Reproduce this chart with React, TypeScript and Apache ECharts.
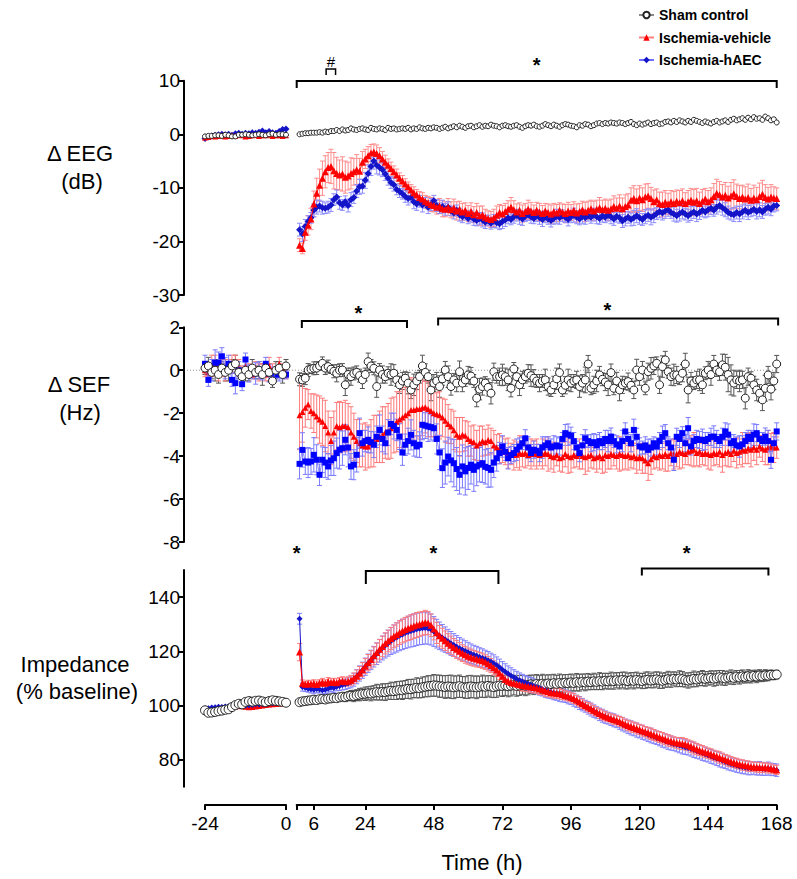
import React, { useEffect, useRef } from 'react';
import * as echarts from 'echarts';

const FONT = '"Liberation Sans", Arial, Helvetica, sans-serif';

// ---------- time points ----------
const preT = [-24, -23, -22, -21, -20, -19, -18, -17, -16, -15, -14, -13, -12, -11, -10, -9, -8, -7, -6, -5, -4, -3, -2, -1, 0];
const postT = Array.from({ length: 168 }, (_, i) => i + 1);

const seriesNames = ['Sham control', 'Ischemia-vehicle', 'Ischemia-hAEC'];
const xTickValues = [0, 6, 24, 48, 72, 96, 120, 144, 168];
const xLabelValues = [6, 24, 48, 72, 96, 120, 144, 168];
const impTickValues = [80, 100, 120, 140];

// ---------- Δ EEG (dB) ----------
const eegShamPre = [-0.4,-0.3,-0.3,-0.2,-0.2,-0.3,-0.1,-0.2,-0.4,-0.4,-0.1,-0.1,0,-0.1,-0.2,-0.1,0,-0.1,-0.2,0,0.1,-0.1,0,0,-0.1];
const eegRedPre = [-0.6,-0.5,-0.3,-0.4,-0.3,-0.2,-0.4,-0.3,-0.2,-0.3,-0.1,-0.2,-0.4,-0.3,-0.2,-0.1,-0.3,-0.2,-0.2,-0.1,-0.3,-0.2,-0.2,-0.3,-0.2];
const eegBluePre = [-0.8,-0.5,-0.3,-0.2,-0.1,0,-0.1,0,-0.2,0.1,0.2,0,0.2,0.1,0.3,0.2,0.4,0.6,0.3,0.5,0.3,0.2,0.5,0.9,1.0];
const eegShamPost = [
  0.0,0.1,0.2,0.2,0.3,0.3,0.3,0.4,0.3,0.5,0.4,0.6,
  0.6,0.8,0.6,0.9,0.7,0.8,1.1,0.9,0.8,1.0,1.1,0.9,
  0.8,1.2,1.0,0.9,1.1,1.0,0.8,1.2,1.0,1.1,0.9,1.0,
  1.1,1.0,1.2,0.9,1.1,1.0,1.3,1.1,1.0,1.2,1.1,1.3,
  1.2,1.0,1.2,1.4,1.1,1.3,1.5,1.3,1.6,1.4,1.2,1.5,
  1.6,1.3,1.5,1.7,1.4,1.6,1.5,1.8,1.6,1.5,1.3,1.6,
  1.7,1.5,1.4,1.6,1.7,1.4,1.2,1.5,1.7,1.6,1.8,1.5,
  1.4,1.6,1.9,1.7,1.5,1.8,1.6,1.4,1.7,1.9,1.8,1.6,
  1.5,1.3,1.7,1.6,1.9,1.8,1.5,1.7,2.0,2.1,1.9,2.1,
  2.0,2.2,2.1,2.0,2.2,2.1,1.9,2.1,2.3,1.9,1.7,2.0,
  1.8,2.0,2.2,1.9,2.1,2.2,1.9,2.0,2.3,2.4,2.2,2.5,
  2.3,2.6,2.4,2.2,2.5,2.3,2.7,2.5,2.3,2.1,2.4,2.2,
  2.0,2.3,2.5,2.2,2.4,2.6,2.3,2.7,2.9,2.6,2.8,3.0,
  2.7,3.1,2.8,3.2,2.9,3.0,2.7,3.3,3.0,2.6,2.8,2.2];
const eegRedPost = [
  -20.7,-21.3,-18.3,-17.0,-15.8,-13.0,-11.0,-9.5,-8.2,-7.0,-6.2,-6.0,
  -6.8,-7.3,-7.6,-7.4,-8.0,-7.8,-7.3,-7.0,-6.6,-6.9,-5.2,-4.6,
  -4.0,-3.5,-3.3,-3.6,-4.0,-4.6,-5.2,-5.8,-6.4,-7.0,-7.6,-8.2,
  -8.7,-9.3,-9.8,-10.4,-10.9,-11.3,-11.8,-12.1,-12.5,-12.8,-13.1,-13.3,
  -13.6,-13.4,-13.9,-14.0,-13.6,-14.1,-13.7,-14.3,-14.0,-14.5,-14.2,-14.8,
  -14.4,-15.0,-14.6,-15.2,-15.0,-15.5,-15.7,-15.9,-15.6,-15.1,-14.6,-14.9,
  -14.4,-14.0,-13.6,-14.1,-14.5,-14.2,-14.8,-14.4,-14.0,-14.3,-14.6,-14.2,
  -14.5,-14.8,-14.3,-14.6,-14.9,-14.4,-14.7,-14.2,-14.5,-14.8,-14.3,-14.6,
  -14.2,-14.7,-14.4,-14.1,-14.5,-14.2,-13.9,-14.3,-14.0,-13.7,-14.1,-13.8,
  -14.2,-13.9,-13.5,-13.8,-13.4,-13.9,-13.5,-13.2,-12.3,-12.0,-12.4,-11.9,
  -12.2,-11.7,-11.5,-12.0,-12.6,-12.2,-12.9,-13.1,-12.7,-13.0,-12.6,-12.9,
  -12.5,-12.8,-12.4,-12.9,-12.6,-12.3,-12.7,-12.4,-12.9,-12.5,-12.1,-12.6,
  -12.2,-11.6,-11.0,-11.3,-11.7,-11.4,-11.9,-11.5,-11.1,-11.6,-12.0,-11.7,
  -12.1,-11.8,-12.3,-11.9,-12.2,-11.6,-11.2,-11.8,-12.1,-11.7,-11.9,-12.0];
const eegBluePost = [
  -17.8,-18.6,-17.2,-16.3,-15.6,-14.2,-13.6,-13.4,-13.7,-13.8,-13.6,-13.2,
  -12.2,-11.7,-12.8,-13.2,-12.6,-13.3,-12.2,-11.8,-10.6,-9.8,-9.7,-8.6,
  -7.3,-6.0,-5.0,-5.8,-6.2,-6.6,-7.4,-8.2,-9.0,-9.4,-10.3,-10.7,
  -11.1,-11.6,-12.0,-11.8,-12.6,-13.0,-12.5,-13.2,-12.8,-13.6,-13.1,-12.4,
  -13.3,-13.8,-13.5,-14.0,-13.6,-14.3,-14.7,-14.2,-15.0,-15.4,-15.1,-15.7,
  -15.3,-15.8,-16.1,-15.7,-16.0,-16.4,-16.1,-16.6,-16.2,-16.5,-16.7,-16.3,
  -16.0,-15.6,-15.9,-15.4,-15.1,-15.5,-15.8,-15.3,-15.0,-15.4,-15.7,-15.2,
  -15.6,-15.9,-15.4,-15.8,-16.1,-15.7,-15.3,-15.6,-15.2,-15.5,-15.9,-15.4,
  -15.1,-15.5,-15.8,-15.3,-15.6,-15.2,-15.5,-15.0,-15.4,-15.7,-15.2,-15.5,
  -15.1,-15.4,-15.8,-15.3,-15.6,-16.2,-15.8,-15.5,-15.9,-15.6,-15.2,-15.6,
  -15.9,-15.4,-15.1,-15.5,-15.2,-14.8,-14.4,-14.7,-14.3,-14.1,-14.6,-14.9,
  -15.2,-14.8,-14.5,-14.9,-15.2,-14.8,-14.5,-14.9,-14.6,-14.2,-14.5,-14.1,
  -13.8,-14.2,-13.6,-13.3,-13.7,-14.1,-14.6,-14.9,-15.0,-14.6,-14.9,-14.5,
  -14.2,-14.6,-14.3,-14.0,-14.4,-14.1,-14.5,-14.0,-13.6,-14.0,-13.4,-13.3];
const eegRedSem = [
  1.2,1.0,1.5,1.8,2.0,2.4,2.8,3.0,3.2,3.0,2.8,3.2,
  3.4,3.0,2.8,3.2,3.0,2.6,2.9,2.5,2.8,2.4,2.0,1.8,
  1.7,1.6,1.5,1.6,1.5,1.4,1.3,1.2,1.2,1.1,1.1,1.0,
  1.0,1.0,0.9,1.0,1.1,1.0,1.1,1.2,1.1,1.2,1.3,1.2,
  1.3,1.4,1.5,1.4,1.6,1.5,1.6,1.7,1.5,1.6,1.4,1.5,
  1.6,1.5,1.7,1.8,1.6,1.5,1.4,1.5,1.6,1.7,1.5,1.6,
  1.5,1.6,1.8,1.7,1.5,1.4,1.6,1.5,1.7,1.6,1.4,1.5,
  1.6,1.5,1.4,1.6,1.7,1.5,1.6,1.4,1.5,1.7,1.6,1.5,
  1.6,1.7,1.5,1.6,1.8,1.7,1.6,1.8,1.7,1.9,1.8,1.7,
  1.9,1.8,2.0,1.9,2.1,2.0,2.2,2.1,2.3,2.4,2.2,2.3,
  2.2,2.4,2.3,2.1,2.2,2.0,2.1,2.3,2.2,2.0,2.1,2.2,
  2.1,2.3,2.2,2.0,2.1,2.2,2.4,2.3,2.1,2.2,2.0,2.1,
  2.2,2.4,2.6,2.5,2.3,2.4,2.2,2.5,2.6,2.3,2.4,2.2,
  2.3,2.5,2.2,2.4,2.3,2.5,2.6,2.4,2.2,2.3,2.1,2.0];
const eegBlueSem = [
  1.2,1.4,1.3,1.1,1.0,1.2,1.3,1.1,1.2,1.0,1.1,1.2,
  1.1,1.3,1.2,1.0,1.1,1.2,1.3,1.1,1.2,1.4,1.3,1.5,
  1.6,1.7,1.5,1.6,1.4,1.3,1.2,1.3,1.1,1.2,1.0,1.1,
  1.0,1.1,1.2,1.0,1.3,1.2,1.1,1.3,1.0,1.2,1.1,1.0,
  1.1,1.0,1.2,1.1,1.0,0.9,1.1,1.0,1.2,1.1,0.9,1.0,
  1.1,1.2,1.0,1.1,1.3,1.2,1.0,1.1,1.2,1.0,1.1,1.3,
  1.2,1.1,1.0,1.2,1.1,1.3,1.2,1.0,1.1,1.2,1.0,1.1,
  1.2,1.3,1.1,1.0,1.2,1.1,1.3,1.2,1.1,1.0,1.2,1.1,
  1.3,1.2,1.1,1.3,1.2,1.0,1.1,1.2,1.3,1.1,1.2,1.0,
  1.1,1.3,1.2,1.1,1.0,1.2,1.3,1.1,1.2,1.4,1.3,1.2,
  1.1,1.3,1.2,1.4,1.3,1.1,1.2,1.3,1.4,1.2,1.1,1.3,
  1.2,1.4,1.3,1.1,1.2,1.3,1.2,1.4,1.3,1.2,1.1,1.3,
  1.2,1.1,1.3,1.2,1.4,1.3,1.2,1.1,1.3,1.2,1.4,1.3,
  1.2,1.3,1.1,1.2,1.4,1.3,1.2,1.1,1.3,1.2,1.1,1.0];

// ---------- Δ SEF (Hz) ----------
const sefShamPre = [0.1,0.2,-0.1,0.0,-0.2,0.1,-0.1,0.0,0.2,0.3,-0.1,-0.3,0.0,-0.2,0.1,-0.1,0.0,-0.2,0.1,-0.1,-0.5,0.0,0.1,-0.2,0.2];
const sefRedPre = [0.0,-0.1,0.2,0.3,-0.2,0.1,0.0,0.2,0.3,0.4,0.1,-0.1,0.2,0.0,-0.2,0.1,-0.1,0.0,-0.2,0.2,0.0,-0.1,0.3,0.1,-0.2];
const sefBluePre = [0.3,-0.45,0.0,0.35,0.35,0.65,0.1,0.3,-0.45,-0.6,0.0,-0.65,0.5,-0.15,-0.1,-0.15,0.0,-0.15,0.3,-0.15,-0.15,-0.2,-0.2,-0.2,-0.2];
const sefShamPreSem = [0.3,0.4,0.3,0.5,0.4,0.3,0.4,0.5,0.3,0.4,0.3,0.4,0.5,0.3,0.4,0.3,0.4,0.5,0.3,0.4,0.3,0.4,0.3,0.4,0.3];
const sefRedPreSem = [0.3,0.4,0.5,0.4,0.3,0.4,0.5,0.3,0.4,0.3,0.4,0.3,0.4,0.3,0.2,0.3,0.4,0.3,0.3,0.4,0.3,0.2,0.3,0.2,0.2];
const sefBluePreSem = [0.4,0.3,0.5,0.6,0.5,0.4,0.5,0.4,0.3,0.5,0.4,0.3,0.3,0.4,0.3,0.5,0.4,0.3,0.3,0.4,0.3,0.2,0.3,0.2,0.2];
const sefShamPost = [
  -0.42,-0.45,-0.37,0.01,0.05,0.09,0.1,0.2,0.32,0.1,0.17,0.05,
  -0.05,-0.14,0.0,0.01,-0.68,-0.2,-0.3,-0.15,-0.1,-0.25,-0.45,-0.2,
  0.4,0.2,0.09,-0.76,0.01,-0.2,-0.3,-0.14,-0.2,-0.14,-0.45,-0.68,
  -0.5,-0.37,-0.6,-0.92,-0.68,-0.5,-0.3,0.2,-0.1,-0.3,-0.92,-0.6,
  -0.5,-0.76,-0.4,0.01,-0.3,-0.76,-0.45,-0.6,-0.07,-0.6,-0.45,-0.22,
  -0.27,-0.5,-1.3,-0.88,-0.76,-0.6,-0.8,-1.07,-0.07,-0.3,-0.3,-0.22,
  -0.3,-0.45,-0.84,0.06,-0.3,-0.68,-0.45,-0.3,-0.14,-0.25,-0.37,-0.5,
  -0.6,-0.5,-0.45,-0.76,-0.92,-0.68,-0.4,-0.11,-0.92,-0.7,-0.45,-0.6,
  -0.5,-0.45,-0.76,-0.6,-0.45,0.29,-0.84,-0.68,-0.5,-0.22,-0.42,-0.55,
  -0.68,-0.11,-0.84,-0.5,-0.92,-0.68,-0.6,-0.53,-0.7,-0.92,0.01,-0.3,
  0.01,-0.84,-0.07,0.09,0.2,0.32,-0.68,0.17,0.48,-0.07,-0.3,-0.22,
  -0.22,-0.37,-0.14,0.29,-0.92,-0.5,-0.6,-0.45,-0.45,-0.68,-0.14,0.01,
  -0.2,0.29,0.01,-0.07,0.25,0.14,-0.2,-0.45,-0.6,-0.45,-0.5,-0.45,
  -1.3,-0.3,-0.37,-0.68,-0.92,-1.07,-1.38,-0.84,-0.22,-0.88,-0.5,0.29];
const sefRedPost = [
  -2.1,-1.95,-1.75,-1.6,-1.9,-2.0,-2.15,-2.3,-2.4,-2.6,-2.9,-3.3,
  -2.9,-2.6,-2.65,-2.6,-2.6,-2.65,-2.9,-3.1,-3.3,-3.4,-3.5,-3.55,
  -3.55,-3.4,-3.3,-3.2,-3.1,-3.0,-2.9,-2.85,-2.7,-2.55,-2.4,-2.3,
  -2.2,-2.1,-2.0,-1.85,-1.85,-1.8,-1.8,-1.75,-1.72,-1.8,-1.9,-2.0,
  -2.05,-2.1,-2.2,-2.35,-2.5,-2.62,-2.8,-3.0,-3.1,-3.0,-3.05,-3.2,
  -3.3,-3.35,-3.5,-3.4,-3.3,-3.35,-3.25,-3.3,-3.5,-3.6,-3.65,-3.7,
  -3.8,-3.86,-3.9,-3.95,-3.94,-3.85,-3.9,-3.85,-3.95,-3.9,-3.86,-3.9,
  -3.95,-3.9,-3.85,-3.9,-4.0,-4.05,-3.95,-4.1,-4.05,-3.9,-4.0,-4.05,
  -3.95,-4.0,-3.9,-4.0,-4.05,-4.0,-3.95,-4.1,-4.05,-4.0,-4.1,-3.95,
  -4.0,-3.9,-3.95,-4.0,-3.9,-3.95,-4.0,-3.95,-4.05,-4.0,-4.1,-4.05,
  -4.1,-4.2,-4.33,-4.15,-4.0,-4.05,-3.95,-4.0,-3.9,-4.0,-3.85,-3.9,
  -3.9,-3.8,-3.85,-3.9,-3.8,-3.75,-3.7,-3.85,-3.8,-3.9,-3.85,-3.9,
  -3.95,-3.85,-3.9,-3.8,-3.95,-3.85,-3.8,-3.9,-3.75,-3.85,-3.8,-3.7,
  -3.75,-3.65,-3.7,-3.6,-3.7,-3.55,-3.65,-3.7,-3.6,-3.55,-3.6,-3.6];
const sefBluePost = [
  -4.36,-3.71,-4.25,-4.3,-4.25,-3.94,-4.17,-4.87,-4.17,-4.3,-4.48,-4.2,
  -4.1,-3.86,-3.7,-3.63,-3.24,-3.6,-4.48,-4.4,-3.94,-2.93,-3.4,-3.3,
  -3.24,-3.35,-3.47,-3.1,-2.78,-3.2,-3.4,-2.9,-2.5,-2.6,-2.78,-3.09,
  -3.83,-3.47,-3.3,-3.01,-3.4,-3.55,-3.47,-2.54,-2.58,-2.62,-2.65,-2.7,
  -3.2,-3.83,-4.56,-4.3,-4.02,-4.2,-4.33,-4.6,-4.87,-4.48,-4.71,-4.55,
  -4.4,-4.64,-4.48,-4.4,-4.33,-4.5,-4.55,-4.64,-4.3,-4.1,-3.86,-3.55,
  -3.8,-4.1,-3.95,-3.86,-3.7,-3.55,-3.4,-3.17,-3.6,-3.86,-3.7,-3.75,
  -3.86,-3.6,-3.5,-3.4,-3.6,-3.55,-3.5,-3.55,-3.2,-2.93,-3.0,-3.05,
  -3.3,-3.6,-3.86,-3.5,-3.17,-3.3,-3.4,-3.35,-3.5,-3.3,-3.4,-3.2,
  -3.3,-3.09,-3.3,-3.45,-3.55,-3.3,-2.85,-3.2,-3.4,-2.78,-3.1,-3.55,
  -3.6,-3.5,-3.71,-3.6,-3.4,-3.55,-3.3,-3.1,-2.93,-3.4,-3.6,-4.17,
  -3.1,-3.2,-2.93,-3.4,-2.7,-3.55,-3.3,-3.2,-3.25,-3.24,-3.3,-3.2,
  -3.1,-3.09,-3.2,-3.3,-3.1,-2.85,-3.0,-3.4,-3.3,-3.5,-3.55,-3.45,
  -3.3,-3.1,-3.2,-3.0,-2.93,-3.2,-3.3,-3.09,-3.3,-4.17,-3.4,-2.85];
const sefShamSem = [
  0.3,0.3,0.3,0.3,0.2,0.3,0.3,0.2,0.3,0.3,0.3,0.2,
  0.3,0.4,0.3,0.3,0.5,0.3,0.4,0.3,0.3,0.3,0.4,0.3,
  0.4,0.3,0.3,0.5,0.3,0.4,0.3,0.3,0.5,0.4,0.3,0.4,
  0.4,0.3,0.5,0.4,0.5,0.4,0.3,0.5,0.4,0.3,0.5,0.4,
  0.4,0.5,0.3,0.4,0.5,0.4,0.3,0.4,0.5,0.4,0.3,0.4,
  0.4,0.3,0.4,0.5,0.4,0.3,0.4,0.5,0.4,0.3,0.4,0.5,
  0.4,0.5,0.4,0.3,0.4,0.5,0.4,0.3,0.4,0.5,0.4,0.3,
  0.4,0.3,0.5,0.4,0.3,0.4,0.5,0.4,0.3,0.4,0.5,0.4,
  0.3,0.4,0.5,0.4,0.6,0.4,0.3,0.4,0.5,0.4,0.3,0.4,
  0.5,0.4,0.3,0.4,0.5,0.4,0.3,0.4,0.3,0.4,0.5,0.4,
  0.4,0.3,0.4,0.5,0.4,0.3,0.4,0.5,0.4,0.3,0.4,0.5,
  0.4,0.3,0.4,0.5,0.6,0.4,0.3,0.4,0.5,0.4,0.3,0.4,
  0.5,0.4,0.3,0.4,0.5,0.6,0.8,0.7,0.6,0.4,0.5,0.4,
  0.5,0.4,0.3,0.4,0.5,0.4,0.5,0.6,0.4,0.5,0.4,0.4];
const sefRedSem = [
  1.6,1.4,0.9,0.7,0.8,0.9,1.0,1.1,1.1,1.2,1.0,1.1,
  1.0,1.1,1.2,1.1,1.2,1.1,1.2,1.1,1.0,1.1,1.0,1.1,
  1.0,1.1,1.2,1.1,1.2,1.3,1.2,1.3,1.4,1.3,1.4,1.3,
  1.4,1.3,1.4,1.5,1.4,1.3,1.4,1.3,1.2,1.3,1.2,1.1,
  1.0,1.1,0.9,1.0,0.9,0.8,0.9,0.8,0.9,0.8,0.7,0.8,
  0.7,0.8,0.7,0.8,0.7,0.6,0.7,0.6,0.7,0.6,0.7,0.6,
  0.6,0.7,0.5,0.7,0.6,0.8,0.6,0.7,0.5,0.7,0.6,0.7,
  0.5,0.7,0.6,0.8,0.6,0.7,0.5,0.6,0.7,0.6,0.8,0.7,
  0.6,0.5,0.7,0.6,0.8,0.7,0.6,0.5,0.7,0.6,0.7,0.8,
  0.6,0.7,0.5,0.6,0.8,0.7,0.6,0.7,0.5,0.6,0.7,0.6,
  0.7,0.6,0.8,0.7,0.6,0.5,0.7,0.6,0.8,0.7,0.6,0.7,
  0.6,0.8,0.7,0.5,0.6,0.7,0.8,0.6,0.7,0.5,0.6,0.7,
  0.7,0.6,0.5,0.7,0.8,0.6,0.7,0.6,0.5,0.7,0.6,0.8,
  0.6,0.7,0.8,0.6,0.7,0.5,0.6,0.7,0.8,0.6,0.7,0.5];
const sefBlueSem = [
  0.7,0.8,0.6,0.7,0.6,0.8,0.7,0.5,0.6,0.7,0.6,0.7,
  0.8,0.7,0.9,0.8,0.7,0.9,0.6,0.7,0.8,0.7,0.6,0.5,
  0.6,0.5,0.6,0.5,0.7,0.6,0.5,0.6,0.5,0.6,0.5,0.6,
  0.6,0.5,0.6,0.7,0.6,0.5,0.6,0.7,0.6,0.7,0.6,0.6,
  0.7,0.8,0.9,1.0,0.9,1.0,1.1,1.0,0.9,1.0,1.1,1.0,
  0.9,1.0,0.9,0.8,0.9,0.8,0.9,0.8,0.7,0.6,0.5,0.5,
  0.4,0.5,0.4,0.4,0.5,0.4,0.3,0.4,0.5,0.4,0.4,0.3,
  0.4,0.5,0.4,0.3,0.4,0.5,0.4,0.4,0.3,0.4,0.5,0.4,
  0.4,0.3,0.4,0.5,0.4,0.3,0.4,0.4,0.5,0.4,0.3,0.4,
  0.5,0.4,0.3,0.4,0.4,0.5,0.4,0.3,0.4,0.5,0.4,0.4,
  0.3,0.4,0.5,0.4,0.3,0.4,0.4,0.5,0.4,0.3,0.4,0.5,
  0.4,0.4,0.3,0.4,0.5,0.4,0.3,0.4,0.4,0.5,0.4,0.3,
  0.4,0.5,0.4,0.3,0.4,0.4,0.5,0.4,0.3,0.4,0.5,0.4,
  0.4,0.3,0.4,0.5,0.4,0.3,0.4,0.4,0.5,0.4,0.3,0.4];

// ---------- Impedance (% baseline) ----------
const impShamPre = [98.2,97.3,97.4,97.6,97.9,98.1,98.4,98.6,99.4,100.1,100.6,100.4,101.3,101.6,101.4,101.7,101.8,101.5,101.2,101.6,101.9,101.7,101.5,101.3,101.0];
const impRedPre = [98.6,98.8,98.9,99.0,99.1,99.2,99.0,99.3,99.5,99.6,99.8,99.7,99.5,99.3,99.4,99.6,99.8,100.0,100.2,100.3,100.4,100.5,100.6,100.8,100.9];
const impBluePre = [98.9,99.0,99.2,99.3,99.5,99.4,99.6,99.7,99.9,100.1,100.2,100.0,99.9,100.1,100.2,100.4,100.3,100.5,100.6,100.7,100.8,100.9,101.0,101.1,101.2];
const impShamPost = [
  101.2,101.5,101.6,101.8,101.9,102.1,102.0,102.3,102.4,102.2,102.5,102.6,
  102.8,102.7,103.0,103.2,103.1,103.4,103.6,103.5,103.8,104.0,104.2,104.3,
  104.5,104.4,104.7,104.9,104.8,105.0,104.9,105.2,105.4,105.3,105.5,105.7,
  105.6,105.9,106.1,106.0,106.3,106.5,106.4,106.7,106.9,107.1,107.2,107.4,
  107.3,107.1,107.0,106.8,107.0,106.9,106.7,106.9,107.1,106.8,106.6,106.8,
  107.0,106.8,106.7,106.9,107.1,106.9,107.2,107.0,106.8,107.1,107.3,107.2,
  107.4,107.1,107.3,107.5,107.2,107.4,107.6,107.3,107.5,107.8,107.6,107.9,
  107.7,108.0,107.8,108.1,107.9,108.2,108.0,108.3,108.1,108.4,108.2,108.5,
  108.3,108.6,108.4,108.7,108.5,108.8,108.6,108.9,108.7,109.0,108.8,109.1,
  108.9,109.2,109.0,109.3,109.1,109.4,109.2,109.0,109.3,109.1,109.4,109.2,
  109.0,109.3,109.5,109.2,109.4,109.6,109.3,109.1,109.4,109.7,109.5,109.8,
  109.6,109.9,109.7,109.4,109.2,109.5,109.8,109.6,109.9,110.1,109.8,110.0,
  110.2,109.9,110.1,110.4,110.2,110.0,110.3,110.5,110.2,110.6,110.4,110.7,
  110.5,110.8,110.6,110.9,110.7,111.0,110.8,111.1,111.0,111.3,111.2,111.4];
const impRedPost = [
  119.7,108.2,107.8,108.0,107.9,108.1,107.7,108.3,108.6,108.2,108.8,108.5,
  108.7,108.4,108.9,109.0,108.7,108.9,109.3,110.0,110.9,112.0,113.2,114.5,
  115.8,117.0,118.3,119.5,120.7,121.8,122.9,123.8,124.7,125.5,126.2,126.9,
  127.5,128.0,128.5,128.9,129.3,129.7,130.0,130.3,130.6,130.4,129.6,128.2,
  126.8,125.7,124.8,123.9,123.0,122.2,121.4,120.7,120.0,119.3,118.7,118.2,
  117.8,117.4,117.1,116.8,116.5,116.0,115.4,114.7,113.9,113.1,112.0,110.8,
  109.6,108.9,108.5,108.2,107.9,107.6,107.4,107.2,107.0,106.8,106.6,106.4,
  106.1,105.8,105.4,105.1,104.8,104.6,104.5,104.3,104.0,103.7,103.4,103.0,
  102.6,102.0,101.3,100.6,100.0,99.4,98.8,98.2,97.6,97.0,96.5,96.0,
  95.6,95.2,94.8,94.5,94.1,93.6,93.1,92.6,92.2,91.9,91.5,91.1,
  90.7,90.3,89.9,89.5,89.1,88.7,88.3,87.9,87.5,87.1,86.8,86.5,
  86.2,86.0,85.9,85.7,85.3,84.8,84.3,83.9,83.5,83.1,82.7,82.4,
  82.0,81.6,81.2,80.8,80.4,80.0,79.6,79.2,78.9,78.6,78.3,78.0,
  77.8,77.6,77.4,77.3,77.2,77.1,77.0,77.1,76.9,76.7,76.4,76.2];
const impBluePost = [
  132.0,106.8,106.5,106.2,106.0,105.8,106.1,105.9,105.6,105.8,106.2,106.6,
  106.4,106.9,107.2,107.5,107.8,108.2,108.7,109.5,110.6,111.8,113.0,114.3,
  115.6,116.8,118.0,119.1,120.2,121.2,122.1,123.0,123.8,124.5,125.1,125.7,
  126.2,126.7,127.1,127.5,127.8,128.1,128.3,128.5,128.6,128.4,128.0,127.3,
  126.5,125.7,125.0,124.3,123.6,122.9,122.3,121.7,121.1,120.6,120.1,119.6,
  119.1,118.7,118.3,117.9,117.5,117.1,116.6,116.1,115.5,114.8,114.0,113.2,
  112.4,111.7,111.0,110.4,109.8,109.3,108.8,108.4,108.0,107.6,107.2,106.8,
  106.4,106.0,105.6,105.2,104.9,104.6,104.3,104.0,103.7,103.4,103.0,102.6,
  102.1,101.5,100.9,100.3,99.7,99.1,98.5,97.9,97.3,96.7,96.2,95.7,
  95.3,94.9,94.5,94.1,93.6,93.1,92.6,92.1,91.7,91.3,90.9,90.5,
  90.1,89.7,89.3,88.9,88.5,88.1,87.7,87.3,86.9,86.5,86.1,85.8,
  85.5,85.2,84.9,84.6,84.3,84.0,83.6,83.2,82.8,82.4,82.0,81.6,
  81.2,80.8,80.4,80.0,79.6,79.2,78.8,78.4,78.1,77.8,77.5,77.3,
  77.1,76.9,76.8,76.9,76.7,76.8,76.6,76.5,76.7,76.4,76.3,76.1];
const impShamSem = [
  0.6,0.7,0.8,0.7,0.8,0.9,0.8,1.0,0.9,1.1,1.0,1.2,
  1.3,1.2,1.5,1.4,1.7,1.6,1.9,2.1,2.0,2.3,2.2,2.5,
  2.4,2.7,2.6,2.9,2.8,3.0,3.1,2.9,3.2,3.1,3.3,3.2,
  3.4,3.3,3.5,3.6,3.4,3.7,3.6,3.8,3.7,3.9,3.8,4.0,
  3.9,4.1,4.0,4.2,4.1,4.3,4.2,4.0,4.1,3.9,4.0,4.2,
  4.1,4.0,4.2,3.9,4.1,4.0,3.8,4.0,3.9,4.1,3.8,3.9,
  3.7,3.9,3.8,3.6,3.8,3.7,3.5,3.7,3.6,3.4,3.6,3.5,
  3.3,3.5,3.4,3.2,3.4,3.3,3.1,3.3,3.2,3.0,3.2,3.1,
  3.0,3.2,3.1,2.9,3.1,3.0,2.8,3.0,2.9,3.1,3.0,2.8,
  2.9,3.1,3.0,2.8,3.0,2.9,3.1,2.9,2.8,3.0,2.9,2.7,
  2.8,3.0,2.9,2.7,2.9,2.8,3.0,2.8,2.7,2.9,2.8,2.6,
  2.7,2.9,2.8,2.6,2.8,2.7,2.9,2.7,2.6,2.8,2.7,2.5,
  2.6,2.8,2.7,2.5,2.7,2.6,2.4,2.6,2.5,2.3,2.5,2.4,
  2.2,2.4,2.3,2.1,2.3,2.2,2.0,2.1,1.9,1.8,1.7,1.6];
const impRedSem = [
  3.2,1.2,1.1,1.3,1.2,1.4,1.3,1.2,1.4,1.3,1.5,1.4,
  1.3,1.5,1.4,1.6,1.5,1.7,1.8,2.0,2.2,2.4,2.6,2.8,
  3.0,3.2,3.3,3.5,3.6,3.8,3.9,4.0,4.1,4.2,4.3,4.4,
  4.4,4.5,4.5,4.6,4.5,4.6,4.5,4.4,4.5,4.3,4.2,4.0,
  3.9,3.8,3.7,3.6,3.5,3.4,3.3,3.3,3.2,3.1,3.1,3.0,
  3.0,2.9,2.9,2.8,2.8,2.7,2.7,2.6,2.6,2.5,2.5,2.4,
  2.4,2.3,2.3,2.2,2.2,2.1,2.1,2.0,2.0,2.1,2.0,1.9,
  2.0,1.9,2.0,1.9,1.8,1.9,1.8,1.9,1.8,1.7,1.8,1.7,
  1.8,1.7,1.8,1.7,1.6,1.7,1.8,1.7,1.6,1.7,1.8,1.7,
  1.6,1.7,1.8,1.7,1.8,1.9,1.8,1.9,2.0,1.9,2.0,1.9,
  2.0,1.9,2.0,2.1,2.0,1.9,2.0,2.1,2.0,2.1,2.0,1.9,
  2.0,2.1,2.2,2.1,2.0,2.1,2.2,2.1,2.0,2.1,2.0,1.9,
  2.0,1.9,2.0,2.1,2.0,1.9,2.0,1.9,1.8,1.9,1.8,1.9,
  1.8,1.9,1.8,1.7,1.8,1.9,1.8,1.7,1.8,1.7,1.6,1.7];
const impBlueSem = [
  2.0,1.5,1.4,1.3,1.4,1.5,1.4,1.3,1.5,1.4,1.6,1.5,
  1.6,1.5,1.7,1.8,1.9,2.0,2.2,2.4,2.6,2.8,3.0,3.2,
  3.4,3.6,3.8,4.0,4.2,4.4,4.6,4.8,5.0,5.2,5.4,5.5,
  5.6,5.7,5.8,5.9,6.0,6.0,5.9,6.0,5.9,5.8,5.7,5.5,
  5.3,5.1,4.9,4.7,4.5,4.4,4.2,4.1,4.0,3.9,3.8,3.7,
  3.6,3.5,3.5,3.4,3.4,3.3,3.3,3.2,3.2,3.1,3.1,3.0,
  3.0,2.9,2.9,2.8,2.8,2.7,2.7,2.6,2.6,2.7,2.6,2.5,
  2.6,2.5,2.6,2.5,2.4,2.5,2.4,2.5,2.4,2.3,2.4,2.3,
  2.4,2.3,2.4,2.3,2.2,2.3,2.4,2.3,2.2,2.3,2.4,2.3,
  2.2,2.3,2.4,2.3,2.4,2.5,2.4,2.5,2.6,2.5,2.6,2.5,
  2.6,2.5,2.6,2.7,2.6,2.5,2.6,2.7,2.6,2.7,2.6,2.5,
  2.6,2.7,2.8,2.7,2.6,2.7,2.8,2.7,2.6,2.7,2.6,2.5,
  2.6,2.5,2.6,2.7,2.6,2.5,2.6,2.5,2.4,2.5,2.4,2.5,
  2.4,2.5,2.4,2.3,2.4,2.5,2.4,2.3,2.4,2.3,2.2,2.3];

// ---------- annotations (time positions of significance brackets) ----------
const brackets = [
  { grid: 1, t0: 0, t1: 168, y: 81, leg: 7, lw: 2 },
  { grid: 1, t0: 10.3, t1: 13.6, y: 69, leg: 6, lw: 1.5 },
  { grid: 3, t0: 1.8, t1: 38.6, y: 321, leg: 7, lw: 2 },
  { grid: 3, t0: 49.5, t1: 168.5, y: 318.5, leg: 7, lw: 2 },
  { grid: 5, t0: 24.2, t1: 70.6, y: 571, leg: 13, lw: 2 },
  { grid: 5, t0: 120.8, t1: 165.1, y: 568.5, leg: 7, lw: 2 },
];
const marks = [
  { grid: 1, t: 84, y: 60, text: '*' },
  { grid: 1, t: 12, y: 61, text: '#' },
  { grid: 3, t: 21.6, y: 308, text: '*' },
  { grid: 3, t: 108.7, y: 305, text: '*' },
  { grid: 5, t: 0, y: 548, text: '*' },
  { grid: 5, t: 47.8, y: 548, text: '*' },
  { grid: 5, t: 136.5, y: 548, text: '*' },
];

const ROWS = [
  { top: 80.7, height: 214.3, min: -30, max: 10, interval: 10 },
  { top: 327.3, height: 214.7, min: -8, max: 2, interval: 2 },
  { top: 570, height: 216.7, min: 70, max: 150, interval: 0 },
];
const COL_L = { left: 205, width: 81 };
const COL_R = { left: 296.7, width: 480 };

const pairs = (ts: number[], vs: number[]) => ts.map((t, i) => [t, vs[i]]);

function lineSeries(name: string, g: number, ts: number[], vs: number[], o: any) {
  return {
    type: 'line', name, xAxisIndex: g, yAxisIndex: g,
    data: pairs(ts, vs),
    symbol: o.symbol, symbolSize: o.size, showSymbol: true, showAllSymbol: true,
    itemStyle: { color: o.fill, borderColor: o.stroke, borderWidth: o.bw, opacity: 1 },
    lineStyle: { color: o.line, width: o.lw },
    z: o.z, clip: false, silent: true, animation: false,
    emphasis: { disabled: true },
  };
}

function errSeries(id: string, g: number, ts: number[], vs: number[], sem: number[], color: string, cap: number, z: number) {
  return {
    type: 'custom', name: id, xAxisIndex: g, yAxisIndex: g, z, silent: true, clip: false,
    data: ts.map((t, i) => [t, vs[i] - sem[i], vs[i] + sem[i]]),
    encode: { x: 0, y: [1, 2] },
    renderItem: (_p: any, api: any) => {
      const x = api.value(0);
      const a = api.coord([x, api.value(2)]);
      const b = api.coord([x, api.value(1)]);
      const st = { stroke: color, lineWidth: 1 };
      return {
        type: 'group',
        children: [
          { type: 'line', shape: { x1: a[0], y1: a[1], x2: b[0], y2: b[1] }, style: st },
          { type: 'line', shape: { x1: a[0] - cap, y1: a[1], x2: a[0] + cap, y2: a[1] }, style: st },
          { type: 'line', shape: { x1: b[0] - cap, y1: b[1], x2: b[0] + cap, y2: b[1] }, style: st },
        ],
      };
    },
  };
}

function buildOption() {
  const grids: any[] = [];
  const xAxes: any[] = [];
  const yAxes: any[] = [];
  const axisBase = {
    axisLine: { show: true, onZero: false, lineStyle: { color: '#000', width: 2 } },
    axisTick: { show: true, length: 5, lineStyle: { color: '#000', width: 2 } },
    axisLabel: { color: '#000', fontSize: 19, fontFamily: FONT },
    splitLine: { show: false },
  };
  ROWS.forEach((r, ri) => {
    [COL_L, COL_R].forEach((c, ci) => {
      const g = ri * 2 + ci;
      grids.push({ left: c.left, width: c.width, top: r.top, height: r.height, containLabel: false });
      const isBottom = ri === 2;
      if (ci === 0) {
        xAxes.push({
          type: 'value', gridIndex: g, min: -24, max: 0, interval: 24, show: isBottom,
          position: 'bottom', offset: 18.3, ...axisBase,
          axisLabel: { ...axisBase.axisLabel, margin: 9 },
        });
      } else {
        xAxes.push({
          type: 'value', gridIndex: g, min: 0, max: 168, show: isBottom,
          position: 'bottom', offset: 18.3, ...axisBase,
          axisTick: { ...axisBase.axisTick, customValues: xTickValues },
          axisLabel: { ...axisBase.axisLabel, margin: 9, customValues: xLabelValues },
        });
      }
      const y: any = {
        type: 'value', gridIndex: g, min: r.min, max: r.max, show: ci === 0,
        position: 'left', offset: ci === 0 ? COL_L.left - 184 : 0, ...axisBase,
        axisLabel: { ...axisBase.axisLabel, margin: 4 },
      };
      if (r.interval) {
        y.interval = r.interval;
      } else {
        y.axisTick = { ...axisBase.axisTick, customValues: impTickValues };
        y.axisLabel = { ...y.axisLabel, customValues: impTickValues };
      }
      yAxes.push(y);
    });
  });

  const RED = '#ff0000';
  const BLUE = '#0000ff';
  const DBLUE = '#1414c8';
  const sham = (g: number, ts: number[], vs: number[], size: number, z: number, name = seriesNames[0]) =>
    lineSeries(name, g, ts, vs, { symbol: 'circle', size, fill: '#ffffff', stroke: '#222', bw: 1, line: '#888', lw: 0.8, z });

  const series: any[] = [
    // EEG
    lineSeries(seriesNames[0], 0, preT, eegShamPre, { symbol: 'circle', size: 5, fill: '#fff', stroke: '#222', bw: 1, line: '#888', lw: 0.8, z: 6 }),
    lineSeries(seriesNames[1], 0, preT, eegRedPre, { symbol: 'triangle', size: 6, fill: RED, stroke: RED, bw: 0, line: '#ff8080', lw: 1, z: 5 }),
    lineSeries(seriesNames[2], 0, preT, eegBluePre, { symbol: 'diamond', size: 7, fill: DBLUE, stroke: DBLUE, bw: 0, line: '#7070ff', lw: 1, z: 4 }),
    sham(1, postT, eegShamPost, 5, 6),
    lineSeries(seriesNames[1], 1, postT, eegRedPost, { symbol: 'triangle', size: 7, fill: RED, stroke: RED, bw: 0, line: RED, lw: 1, z: 5 }),
    lineSeries(seriesNames[2], 1, postT, eegBluePost, { symbol: 'diamond', size: 7, fill: DBLUE, stroke: DBLUE, bw: 0, line: DBLUE, lw: 1, z: 4 }),
    errSeries('e-eeg-red', 1, postT, eegRedPost, eegRedSem, '#ff8c8c', 2.5, 2),
    errSeries('e-eeg-blue', 1, postT, eegBluePost, eegBlueSem, '#8c8cff', 2.5, 2),
    // SEF
    sham(2, preT, sefShamPre, 8, 6),
    lineSeries(seriesNames[1], 2, preT, sefRedPre, { symbol: 'triangle', size: 6, fill: RED, stroke: RED, bw: 0, line: '#ff7070', lw: 0.8, z: 4 }),
    lineSeries(seriesNames[2], 2, preT, sefBluePre, { symbol: 'rect', size: 6, fill: BLUE, stroke: BLUE, bw: 0, line: '#7070ff', lw: 0.8, z: 5 }),
    sham(3, postT, sefShamPost, 8, 6),
    lineSeries(seriesNames[1], 3, postT, sefRedPost, { symbol: 'triangle', size: 6, fill: RED, stroke: RED, bw: 0, line: '#ff7070', lw: 0.8, z: 4 }),
    lineSeries(seriesNames[2], 3, postT, sefBluePost, { symbol: 'rect', size: 6, fill: BLUE, stroke: BLUE, bw: 0, line: '#7070ff', lw: 0.8, z: 5 }),
    errSeries('e-sef-sham-pre', 2, preT, sefShamPre, sefShamPreSem, '#555', 2.5, 2),
    errSeries('e-sef-red-pre', 2, preT, sefRedPre, sefRedPreSem, '#ff7a7a', 2.5, 2),
    errSeries('e-sef-blue-pre', 2, preT, sefBluePre, sefBluePreSem, '#7a7aff', 2.5, 2),
    errSeries('e-sef-sham', 3, postT, sefShamPost, sefShamSem, '#555', 2.5, 2),
    errSeries('e-sef-red', 3, postT, sefRedPost, sefRedSem, '#ff7a7a', 2.5, 2),
    errSeries('e-sef-blue', 3, postT, sefBluePost, sefBlueSem, '#7a7aff', 2.5, 2),
    // Impedance
    sham(4, preT, impShamPre, 9, 4),
    lineSeries(seriesNames[1], 4, preT, impRedPre, { symbol: 'triangle', size: 6, fill: RED, stroke: RED, bw: 0, line: RED, lw: 1, z: 3 }),
    lineSeries(seriesNames[2], 4, preT, impBluePre, { symbol: 'diamond', size: 6, fill: DBLUE, stroke: DBLUE, bw: 0, line: DBLUE, lw: 1, z: 3 }),
    sham(5, postT, impShamPost, 9, 3),
    lineSeries(seriesNames[2], 5, postT, impBluePost, { symbol: 'diamond', size: 6, fill: DBLUE, stroke: DBLUE, bw: 0, line: DBLUE, lw: 1, z: 5 }),
    lineSeries(seriesNames[1], 5, postT, impRedPost, { symbol: 'triangle', size: 7, fill: RED, stroke: RED, bw: 0, line: RED, lw: 1, z: 6 }),
    errSeries('e-imp-sham', 5, postT, impShamPost, impShamSem, '#555', 2.5, 2),
    errSeries('e-imp-blue', 5, postT, impBluePost, impBlueSem, '#8080ff', 2.5, 2),
    errSeries('e-imp-red', 5, postT, impRedPost, impRedSem, '#ff7a7a', 2.5, 2),
  ];

  return {
    animation: false,
    backgroundColor: '#ffffff',
    textStyle: { fontFamily: FONT },
    legend: {
      data: seriesNames,
      orient: 'vertical',
      left: 633,
      top: 3,
      itemWidth: 15,
      itemHeight: 8,
      itemGap: 8.5,
      selectedMode: false,
      textStyle: { fontSize: 14, fontWeight: 'bold', color: '#000', fontFamily: FONT },
    },
    grid: grids,
    xAxis: xAxes,
    yAxis: yAxes,
    series,
  };
}

export default function App() {
  const ref = useRef<HTMLDivElement>(null);
  useEffect(() => {
    if (!ref.current) return;
    const chart = echarts.init(ref.current, null, { renderer: 'svg' });
    chart.setOption(buildOption() as any);

    const px = (g: number, t: number, v: number) => chart.convertToPixel({ gridIndex: g } as any, [t, v]) as number[];
    const graphics: any[] = [];
    brackets.forEach((b) => {
      const x0 = px(b.grid, b.t0, 0)[0];
      const x1 = px(b.grid, b.t1, 0)[0];
      graphics.push({
        type: 'polyline', silent: true,
        shape: { points: [[x0, b.y + b.leg], [x0, b.y], [x1, b.y], [x1, b.y + b.leg]] },
        style: { stroke: '#000', lineWidth: b.lw, fill: null },
      });
    });
    marks.forEach((m) => {
      const x = px(m.grid, m.t, 0)[0];
      const isStar = m.text === '*';
      graphics.push({
        type: 'text', silent: true, x, y: isStar ? m.y + 5 : m.y,
        style: {
          text: m.text, fill: '#000',
          font: isStar ? `bold 20px ${FONT}` : `15px ${FONT}`,
          textAlign: 'center', textVerticalAlign: 'middle',
        },
      });
    });
    // dotted zero reference line in the SEF panel
    const zeroY = px(3, 0, 0)[1];
    const xEnd = px(3, 168, 0)[0];
    graphics.push({
      type: 'line', silent: true, z: 0,
      shape: { x1: 187, y1: zeroY, x2: xEnd, y2: zeroY },
      style: { stroke: '#777', lineWidth: 0.8, lineDash: [1, 2] },
    });
    // axis titles
    const titles = [
      { text: 'Δ EEG', x: 80, y: 153 },
      { text: '(dB)', x: 82, y: 181 },
      { text: 'Δ SEF', x: 79, y: 384 },
      { text: '(Hz)', x: 80, y: 412 },
      { text: 'Impedance', x: 75, y: 664 },
      { text: '(% baseline)', x: 77, y: 691 },
      { text: 'Time (h)', x: 482, y: 862 },
    ];
    titles.forEach((t) => {
      graphics.push({
        type: 'text', silent: true, x: t.x, y: t.y,
        style: { text: t.text, fill: '#000', font: `22px ${FONT}`, textAlign: 'center', textVerticalAlign: 'middle' },
      });
    });
    chart.setOption({ graphic: graphics } as any);
    return () => chart.dispose();
  }, []);
  return <div ref={ref} style={{ position: 'fixed', left: 0, top: 0, width: 797, height: 879, background: '#fff' }} />;
}
